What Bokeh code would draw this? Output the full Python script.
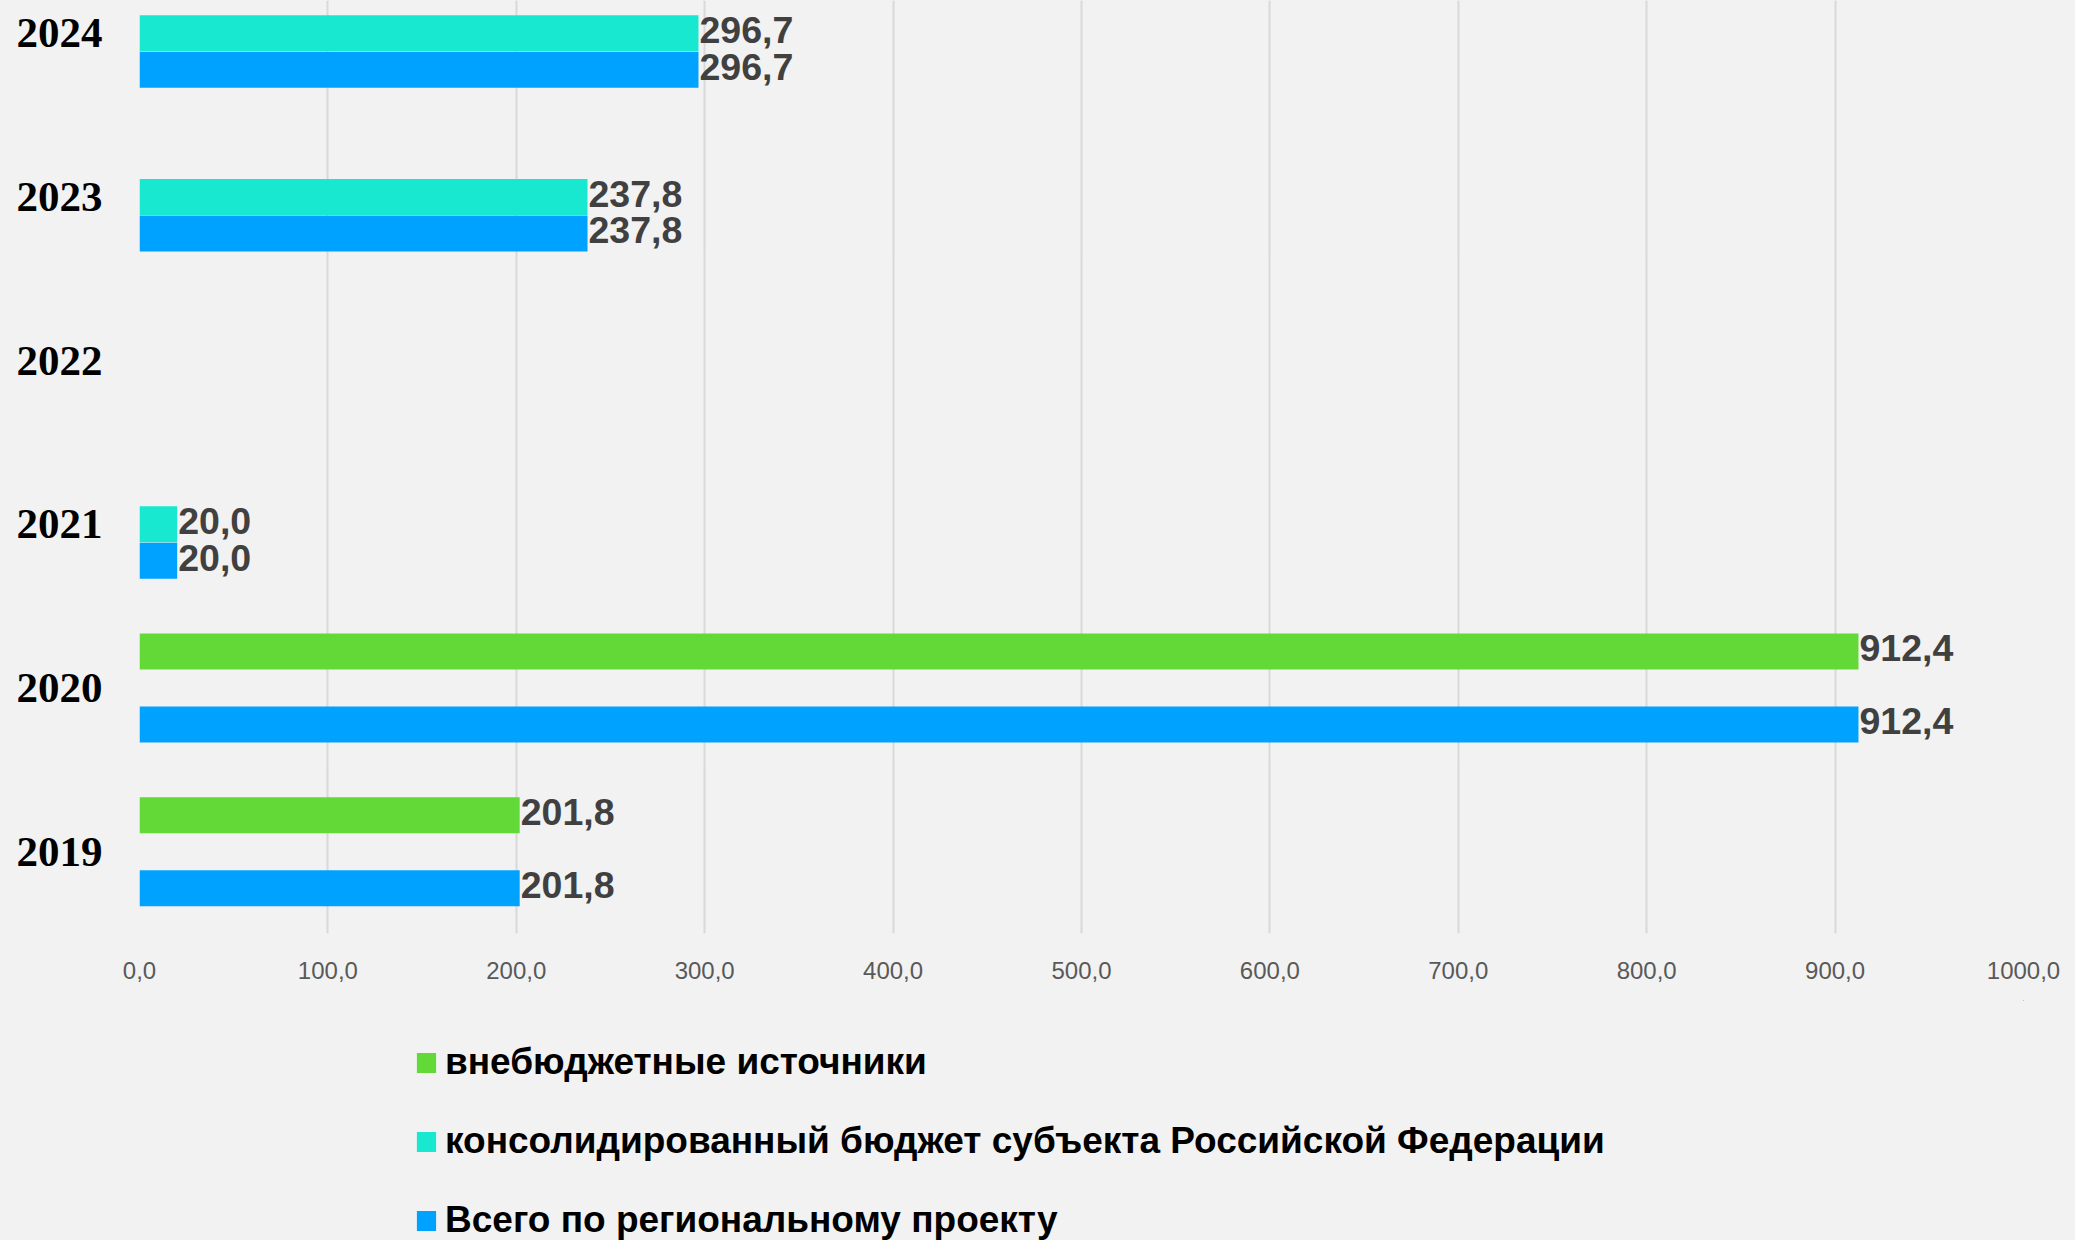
from bokeh.plotting import figure
from bokeh.models import ColumnDataSource, Range1d, FixedTicker, Legend, LegendItem
from bokeh.layouts import column
from bokeh.transform import dodge
from bokeh.core.properties import value
from bokeh.embed import file_html
from bokeh.resources import INLINE

# ---- data ----
years = ["2019", "2020", "2021", "2022", "2023", "2024"]
vnebudget = [201.8, 912.4, None, None, None, None]
konsolid = [None, None, 20.0, None, 237.8, 296.7]
vsego = [201.8, 912.4, 20.0, None, 237.8, 296.7]
series_names = [
    "внебюджетные источники",
    "консолидированный бюджет субъекта Российской Федерации",
    "Всего по региональному проекту",
]
x_ticks = [0, 100, 200, 300, 400, 500, 600, 700, 800, 900, 1000]
x_tick_labels = ["0,0", "100,0", "200,0", "300,0", "400,0", "500,0",
                 "600,0", "700,0", "800,0", "900,0", "1000,0"]

colors = ["#62D936", "#17E8CF", "#00A2FF"]
offsets = [0.223, 0.0, -0.223]

BG = "#F2F2F2"

p = figure(width=2075, height=1000, output_backend="svg", toolbar_location=None,
           x_range=Range1d(0, 1000), y_range=Range1d(-0.5, 5.2),
           min_border_left=139, min_border_right=52, min_border_top=0,
           min_border_bottom=67)
p.background_fill_color = BG
p.border_fill_color = BG
p.outline_line_color = None

def make_source(vals):
    ys, xs, labels = [], [], []
    for i, v in enumerate(vals):
        if v is not None:
            ys.append(i)
            xs.append(v)
            labels.append(f"{v:.1f}".replace(".", ","))
    return ColumnDataSource(dict(y=ys, x=xs, label=labels))

# legend figure (below the chart); its ranges keep the swatch renderers out of view
p2 = figure(width=2075, height=240, output_backend="svg", toolbar_location=None,
            x_range=Range1d(-2, -1), y_range=Range1d(-2, -1),
            x_axis_type=None, y_axis_type=None,
            min_border_left=0, min_border_right=0, min_border_top=0,
            min_border_bottom=0)
p2.background_fill_color = BG
p2.border_fill_color = BG
p2.outline_line_color = None
p2.xgrid.grid_line_color = None
p2.ygrid.grid_line_color = None

items = []
for vals, name, col, off in zip([vnebudget, konsolid, vsego], series_names, colors, offsets):
    src = make_source(vals)
    p.hbar(y=dodge("y", off), right="x", left=0, height=0.22, source=src,
           fill_color=col, line_color=None)
    p.text(x="x", y=dodge("y", off), text="label", source=src,
           text_font=value("Liberation Sans"), text_font_style="bold",
           text_font_size="37.5px", text_color="#404040",
           text_align="left", text_baseline="middle", x_offset=1, y_offset=-3)
    lr = p2.hbar(y="y", right="x", left=0, height=0.2, source=src,
                 fill_color=col, line_color=None)
    items.append(LegendItem(label=name, renderers=[lr]))

# x axis
xa = p.xaxis[0]
xa.ticker = FixedTicker(ticks=x_ticks)
xa.major_label_overrides = {t: l for t, l in zip(x_ticks, x_tick_labels)}
xa.axis_line_color = None
xa.major_tick_line_color = None
xa.minor_tick_line_color = None
xa.major_tick_out = 0
xa.major_tick_in = 0
xa.major_label_standoff = 28
xa.major_label_text_font = "Liberation Sans"
xa.major_label_text_font_size = "24px"
xa.major_label_text_color = "#595959"

# y axis
ya = p.yaxis[0]
ya.ticker = FixedTicker(ticks=list(range(len(years))))
ya.major_label_overrides = {i: y for i, y in enumerate(years)}
ya.axis_line_color = None
ya.major_tick_line_color = None
ya.minor_tick_line_color = None
ya.major_tick_out = 0
ya.major_tick_in = 0
ya.major_label_standoff = 37
ya.major_label_text_font = "Liberation Serif"
ya.major_label_text_font_style = "bold"
ya.major_label_text_font_size = "43px"
ya.major_label_text_color = "#000000"

p.xgrid.grid_line_color = "#D9D9D9"
p.xgrid.grid_line_width = 2
p.ygrid.grid_line_color = None

legend = Legend(items=items, location=(275, -1), orientation="vertical",
                margin=0, padding=0, spacing=37, label_height=40,
                glyph_width=24, glyph_height=25, label_standoff=7,
                label_text_font="Liberation Sans", label_text_font_style="bold",
                label_text_font_size="37px", label_text_color="#000000",
                background_fill_alpha=0, border_line_color=None)
p2.add_layout(legend, "center")

layout = column(p, p2, spacing=0)
layout.styles = {"background-color": BG}
open("out.html", "w").write(file_html(layout, INLINE))
